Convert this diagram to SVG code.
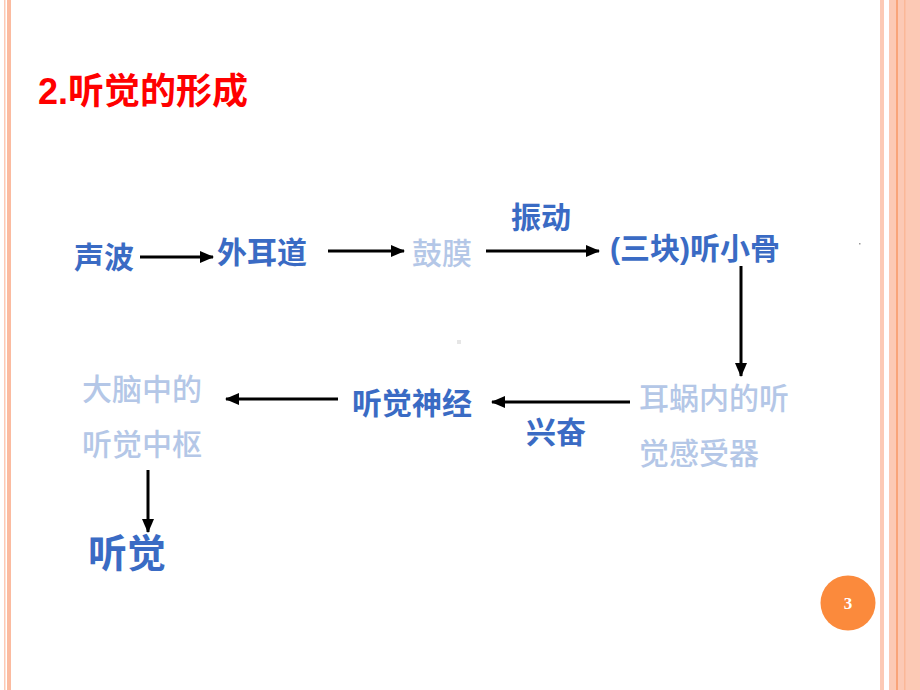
<svg xmlns="http://www.w3.org/2000/svg" width="920" height="690" viewBox="0 0 920 690">
<defs>
<style>
.t{font-family:"Liberation Sans","Noto Sans CJK SC",sans-serif;}
.b{fill:#3A6BC4;font-weight:bold;font-size:30px;}
.l{fill:#B4C7E7;font-size:30px;font-weight:500;}
.c{stroke:#000;stroke-width:3;fill:none;marker-end:url(#ah);}
</style>
<marker id="ah" markerUnits="userSpaceOnUse" markerWidth="14" markerHeight="12" refX="13" refY="6" orient="auto">
<path d="M0,0 L14,6 L0,12 Z" fill="#000"/>
</marker>
</defs>
<rect width="920" height="690" fill="#fff"/>
<g id="border">
<rect x="4" y="0" width="1.5" height="690" fill="#FCC9B5"/>
<rect x="7" y="0" width="4" height="690" fill="#FBBBA0"/>
<rect x="880" y="0" width="4" height="690" fill="#FCC9B5"/>
<rect x="889" y="0" width="31" height="690" fill="#FCC9B5"/>
<rect x="896" y="0" width="2" height="690" fill="#F9A47A"/>
<rect x="904" y="0" width="1.5" height="690" fill="#FBB898"/>
</g>
<rect x="859" y="243" width="1.5" height="1.5" fill="#999"/>
<rect x="457" y="340" width="4" height="4" fill="#E6E6E6"/>
<text id="title" class="t" x="38" y="104" font-size="36" font-weight="bold" fill="#FF0000">2.听觉的形成</text>
<g id="connectors">
<line class="c" x1="140" y1="257" x2="213" y2="257"/>
<line class="c" x1="328" y1="251" x2="404" y2="251"/>
<line class="c" x1="486" y1="251" x2="599" y2="251"/>
<line class="c" x1="741" y1="266" x2="741" y2="376"/>
<line class="c" x1="630" y1="402" x2="492" y2="402"/>
<line class="c" x1="338" y1="399" x2="226" y2="399"/>
<line class="c" x1="148" y1="470" x2="148" y2="532"/>
</g>
<g id="n1"><text class="t b" x="74" y="268">声波</text></g>
<g id="n2"><text class="t b" x="217" y="263">外耳道</text></g>
<g id="n3"><text class="t l" x="412" y="264">鼓膜</text></g>
<g id="lbl1"><text class="t b" x="511" y="228">振动</text></g>
<g id="n4"><text class="t b" x="610" y="259">(三块)听小骨</text></g>
<g id="n5"><text class="t l" x="639" y="409">耳蜗内的听</text><text class="t l" x="639" y="464">觉感受器</text></g>
<g id="lbl2"><text class="t b" x="526" y="443">兴奋</text></g>
<g id="n6"><text class="t b" x="352" y="414">听觉神经</text></g>
<g id="n7"><text class="t l" x="82" y="400">大脑中的</text><text class="t l" x="82" y="455">听觉中枢</text></g>
<g id="n8"><text class="t" x="88" y="567" font-size="39" font-weight="bold" fill="#3A6BC4">听觉</text></g>
<g id="page"><circle cx="848" cy="603" r="27.5" fill="#FB8A3C"/><text x="848" y="609" text-anchor="middle" font-family="Liberation Serif,serif" font-weight="bold" font-size="17" fill="#fff">3</text></g>
</svg>
